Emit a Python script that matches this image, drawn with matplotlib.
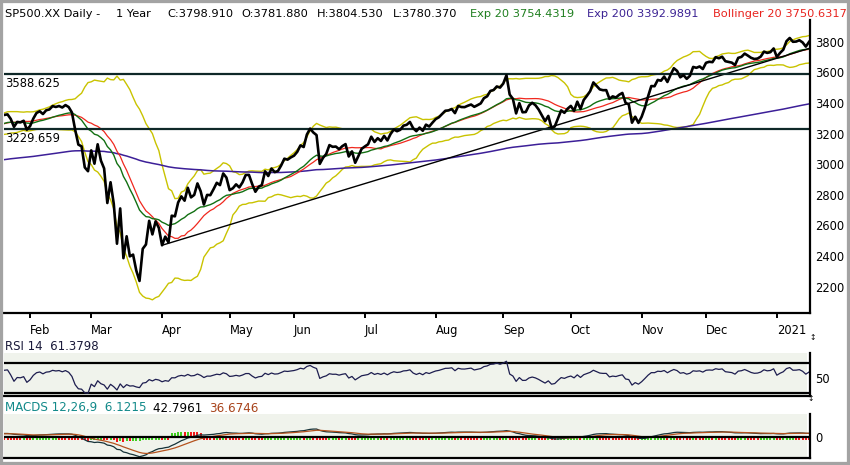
import numpy as np
import pandas as pd
import matplotlib
matplotlib.use("Agg")
import matplotlib.pyplot as plt
from matplotlib.patches import Rectangle

# daily closes; Dec 2019 and early Jan 2020 only warm up the indicators
close_2019_12 = [3113.87, 3093.20, 3112.76, 3117.43, 3145.91, 3135.96, 3132.52, 3141.63, 3168.57, 3168.80,
                 3191.45, 3192.52, 3191.14, 3205.37, 3221.22, 3224.01, 3223.38, 3239.91, 3240.02, 3221.29,
                 3230.78]
close_2020_01 = [3257.85, 3234.85, 3246.28, 3237.18, 3253.05, 3274.70, 3265.35, 3288.13, 3283.15, 3289.29,
                 3316.81, 3329.62, 3320.79, 3321.75, 3325.54, 3295.47, 3243.63, 3276.24, 3273.40, 3283.66,
                 3225.52]
close_2020_02 = [3248.92, 3297.59, 3334.69, 3345.78, 3327.71, 3352.09, 3357.75, 3379.45, 3373.94, 3380.16,
                 3370.29, 3386.15, 3373.23, 3337.75, 3225.89, 3128.21, 3116.39, 2978.76, 2954.22]
close_2020_03 = [3090.23, 3003.37, 3130.12, 3023.94, 2972.37, 2746.56, 2882.23, 2741.38, 2480.64, 2711.02,
                 2386.13, 2529.19, 2398.10, 2409.39, 2304.92, 2237.40, 2447.33, 2475.56, 2630.07, 2541.47,
                 2626.65, 2584.59]
close_2020_04 = [2470.50, 2526.90, 2488.65, 2663.68, 2659.41, 2749.98, 2789.82, 2761.63, 2846.06, 2783.36,
                 2799.55, 2874.56, 2823.16, 2736.56, 2799.31, 2797.80, 2836.74, 2878.48, 2863.39, 2939.51,
                 2912.43]
close_2020_05 = [2830.71, 2842.74, 2868.44, 2848.42, 2881.19, 2929.80, 2930.32, 2870.12, 2820.00, 2852.50,
                 2863.70, 2953.91, 2922.94, 2971.61, 2948.51, 2955.45, 2991.77, 3036.13, 3029.73, 3044.31]
close_2020_06 = [3055.73, 3080.82, 3122.87, 3112.35, 3193.93, 3232.39, 3207.18, 3190.14, 3002.10, 3041.31,
                 3066.59, 3124.74, 3113.49, 3115.34, 3097.74, 3117.86, 3131.29, 3050.33, 3083.76, 3009.05,
                 3053.24, 3100.29]
close_2020_07 = [3115.86, 3130.01, 3179.72, 3145.32, 3169.94, 3152.05, 3185.04, 3155.22, 3197.52, 3226.56,
                 3215.57, 3224.73, 3251.84, 3257.30, 3276.02, 3235.66, 3215.63, 3239.41, 3218.44, 3258.44,
                 3246.22, 3271.12]
close_2020_08 = [3294.61, 3306.51, 3327.77, 3349.16, 3351.28, 3360.47, 3333.69, 3380.35, 3373.43, 3372.85,
                 3381.99, 3389.78, 3374.85, 3385.51, 3397.16, 3431.28, 3443.62, 3478.73, 3484.55, 3508.01,
                 3500.31]
close_2020_09 = [3526.65, 3580.84, 3455.06, 3426.96, 3331.84, 3398.96, 3339.19, 3340.97, 3383.54, 3401.20,
                 3385.49, 3357.01, 3319.47, 3281.06, 3315.57, 3236.92, 3246.59, 3298.46, 3351.60, 3335.47,
                 3363.00]
close_2020_10 = [3380.80, 3348.42, 3408.60, 3360.97, 3419.44, 3446.83, 3477.14, 3534.22, 3511.93, 3488.67,
                 3483.34, 3483.81, 3426.92, 3443.12, 3435.56, 3453.49, 3465.39, 3400.97, 3390.68, 3271.03,
                 3310.11, 3269.96]
close_2020_11 = [3310.24, 3369.16, 3443.44, 3510.45, 3509.44, 3550.50, 3545.53, 3572.66, 3537.01, 3585.15,
                 3626.91, 3609.53, 3567.79, 3581.87, 3557.54, 3577.59, 3635.41, 3629.65, 3638.35, 3621.63]
close_2020_12 = [3662.45, 3669.01, 3666.72, 3699.12, 3691.96, 3702.25, 3672.82, 3668.10, 3663.46, 3647.49,
                 3694.62, 3701.17, 3722.48, 3709.41, 3694.92, 3687.26, 3690.01, 3703.06, 3735.36, 3727.04,
                 3732.04, 3756.07]
close_2021_01 = [3700.65, 3726.86, 3748.14, 3803.79, 3824.68, 3799.61, 3801.19, 3809.84, 3795.54, 3768.25,
                 3798.91]

holidays = ["2019-12-25", "2020-01-01", "2020-01-20", "2020-02-17", "2020-04-10", "2020-05-25",
            "2020-07-03", "2020-09-07", "2020-11-26", "2020-12-25", "2021-01-01", "2021-01-18"]
first_shown = "2020-01-21"

levels = [3588.625, 3229.659]
trend_days = ["2020-04-01", "2021-01-19"]
trend_values = [2470.5, 3756.0]
ema200_start = 3027.0  # purple line at the left edge

header = [(5, "SP500.XX Daily -", "black"), (116, "1 Year", "black"),
          (167, "C:3798.910", "black"), (241, "O:3781.880", "black"),
          (317, "H:3804.530", "black"), (393, "L:3780.370", "black"),
          (470, "Exp 20 3754.4319", "#1f7f1f"), (587, "Exp 200 3392.9891", "#3b2293"),
          (713, "Bollinger 20 3750.6317", "#e8231e")]
rsi_label = "RSI 14  61.3798"
macd_header = [("MACDS 12,26,9  6.1215 ", "#138a8a"), ("42.7961 ", "black"), ("36.6746", "#a8441c")]

closes = (close_2019_12 + close_2020_01 + close_2020_02 + close_2020_03 + close_2020_04 + close_2020_05
          + close_2020_06 + close_2020_07 + close_2020_08 + close_2020_09 + close_2020_10 + close_2020_11
          + close_2020_12 + close_2021_01)
dates = pd.bdate_range("2019-12-02", "2021-01-19", freq="C", holidays=holidays)
px = pd.Series(closes, index=dates)

# indicators
ema20 = px.ewm(span=20, adjust=False).mean()
sma20 = px.rolling(20).mean()
sd20 = px.rolling(20).std(ddof=0)
upper = sma20 + 2 * sd20
lower = sma20 - 2 * sd20

chg = px.diff()
gain = chg.clip(lower=0).ewm(alpha=1 / 14, adjust=False).mean()
loss = (-chg.clip(upper=0)).ewm(alpha=1 / 14, adjust=False).mean()
rsi = 100 - 100 / (1 + gain / loss)

macd = px.ewm(span=12, adjust=False).mean() - px.ewm(span=26, adjust=False).mean()
signal = macd.ewm(span=9, adjust=False).mean()
hist = macd - signal

shown = px.index >= pd.Timestamp(first_shown)
d = dates[shown]
x = np.arange(len(d))
c = px[shown].values
ema200 = pd.Series(np.r_[ema200_start, c[1:]]).ewm(span=200, adjust=False).mean().values

month_starts = [i for i in range(1, len(d)) if d[i].month != d[i - 1].month]
month_labels = [str(d[i].year) if d[i].month == 1 else d[i].strftime("%b") for i in month_starts]
trend_x = [d.get_loc(pd.Timestamp(t)) for t in trend_days]

W, H = 850, 465
fig = plt.figure(figsize=(W / 100, H / 100), dpi=100)
plt.rcParams["font.family"] = "DejaVu Sans"


def box(top, bottom):
    return [4 / W, 1 - bottom / H, 806 / W, (bottom - top) / H]


ax = fig.add_axes(box(20, 313))
ax_rsi = fig.add_axes(box(353, 396))
ax_macd = fig.add_axes(box(414, 458))
xlim = (0.9, len(d) - 0.7)
panel_bg = "#f0f3ec"

for a in (ax, ax_rsi, ax_macd):
    a.set_xlim(*xlim)
    a.spines["top"].set_visible(False)
    a.spines["left"].set_visible(False)
    a.spines["right"].set_linewidth(1.6)
    a.spines["bottom"].set_linewidth(1.6)
    a.yaxis.tick_right()
    a.tick_params(axis="y", length=0, pad=4, labelsize=8.3)

# main price panel
ax.plot(x, upper[shown].values, color="#c9c300", lw=1.0)
ax.plot(x, lower[shown].values, color="#c9c300", lw=1.0)
ax.plot(x, ema200, color="#3c1f98", lw=1.1)
ax.plot(x, sma20[shown].values, color="#f0281e", lw=0.9)
ax.plot(x, ema20[shown].values, color="#127012", lw=1.0)
ax.plot(trend_x, trend_values, color="black", lw=1.0)
for lv in levels:
    ax.axhline(lv, color="#0f2828", lw=1.6)
    ax.annotate(f"{lv:.3f}", xy=(0, lv), xycoords=("axes fraction", "data"), xytext=(1, -2),
                textcoords="offset points", ha="left", va="top", fontsize=8.3)
ax.plot(x, c, color="black", lw=1.9)
ax.set_ylim(2028, 3942)
ax.set_yticks(np.arange(2200, 3801, 200))
ax.set_xticks(month_starts)
ax.set_xticklabels(month_labels, ha="left", fontsize=8.3)
ax.tick_params(axis="x", length=3.6, width=1.4, pad=4.5)

# RSI panel
ax_rsi.axvspan(xlim[0], len(d) - 1.5, color=panel_bg, lw=0)
ax_rsi.axhline(80, color="black", lw=1.6)
ax_rsi.axhline(20, color="black", lw=1.6)
ax_rsi.plot(x, rsi[shown].values, color="#1d1d4f", lw=0.9)
ax_rsi.set_ylim(13.4, 99.4)
ax_rsi.set_yticks([50])
ax_rsi.set_xticks([])

# MACD panel
ax_macd.axvspan(xlim[0], len(d) - 1.5, color=panel_bg, lw=0)
u = -macd[shown].min() / 20.0          # data units per pixel
h = hist[shown].values
rising = np.r_[True, np.diff(h) > 0]
stub = 3.2 * u                          # tiny bars still show a short stub under the zero line
bar_h = np.where(np.abs(h) < stub, -stub, h)
ax_macd.bar(x, bar_h, width=0.62, color=np.where(rising, "#3fcf1f", "#f01818"), lw=0)
ax_macd.plot(x, macd[shown].values, color="#163238", lw=0.9)
ax_macd.plot(x, signal[shown].values, color="#b4521e", lw=0.9)
ax_macd.axhline(0, color="black", lw=1.6)
ax_macd.set_ylim(-21.3 * u, 22.7 * u)
ax_macd.set_yticks([0])
ax_macd.set_xticks([])

# header texts
for xp, s, col in header:
    fig.text(xp / W, 1 - 17 / H, s, color=col, fontsize=8.2, va="baseline", ha="left")
fig.text(5 / W, 1 - 350 / H, rsi_label, color="#1a1a3a", fontsize=8.5, va="baseline")

renderer = fig.canvas.get_renderer()
xp = 5
for s, col in macd_header:
    t = fig.text(xp / W, 1 - 411.5 / H, s, color=col, fontsize=8.6, va="baseline")
    xp = t.get_window_extent(renderer).x1 + 3

fig.text(813 / W, 1 - 337 / H, "\u2195", fontsize=5.5, ha="center", va="center")
fig.text(811 / W, 1 - 398 / H, "\u2195", fontsize=5.5, ha="center", va="center")

fig.patches.append(Rectangle((0, 0), 1, 1, transform=fig.transFigure, fill=False,
                             edgecolor="#a3a3a3", lw=4.5))

fig.savefig("out.png", dpi=100)
